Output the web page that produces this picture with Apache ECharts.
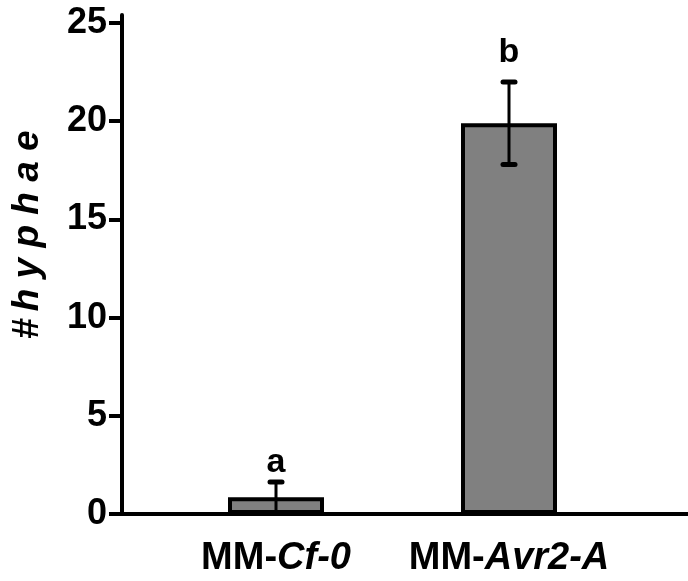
<!DOCTYPE html>
<html>
<head>
<meta charset="utf-8">
<script src="https://cdn.jsdelivr.net/npm/echarts@6/dist/echarts.min.js"></script>
<style>
  html, body { margin: 0; padding: 0; background: #fff; }
  #chart { width: 688px; height: 581px; }
</style>
</head>
<body>
<div id="chart"></div>
<script>
// values
var categories = ['MM-Cf-0', 'MM-Avr2-A'];
var means = [0.85, 19.9];
var errors = [0.78, 2.1];
var letters = ['a', 'b'];
var letterY = [2.6, 23.5];
var yTicks = [0, 5, 10, 15, 20, 25];

var FONT = '"Liberation Sans", Arial, Helvetica, sans-serif';

var errorData = means.map(function (m, i) {
  return [i, m - errors[i], m + errors[i]];
});

var option = {
  animation: false,
  backgroundColor: '#fff',
  grid: [
    // frame: axis lines only
    { left: 122, right: 0, top: 15, bottom: 67 },
    // plotting area for the bars
    { left: 159.5, width: 466, top: 23, bottom: 67 }
  ],
  xAxis: [{
    gridIndex: 0,
    type: 'value',
    min: 0,
    max: 1,
    axisLine: { show: true, lineStyle: { color: '#000', width: 4 } },
    axisTick: { show: false },
    axisLabel: { show: false },
    splitLine: { show: false }
  }, {
    gridIndex: 1,
    type: 'category',
    data: categories,
    axisLine: { show: false },
    axisTick: { show: false },
    axisLabel: {
      margin: 26,
      interval: 0,
      formatter: function (v) {
        var p = v.split('-');
        return '{u|' + p[0] + '-}{i|' + p.slice(1).join('-') + '}';
      },
      rich: {
        u: { fontFamily: FONT, fontWeight: 'bold', fontSize: 38, color: '#000' },
        i: { fontFamily: FONT, fontWeight: 'bold', fontStyle: 'italic', fontSize: 38, color: '#000' }
      }
    }
  }],
  yAxis: [{
    gridIndex: 0,
    type: 'value',
    min: 0,
    max: 1,
    axisLine: { show: true, lineStyle: { color: '#000', width: 4 } },
    axisTick: { show: false },
    axisLabel: { show: false },
    splitLine: { show: false },
    name: '{n|#}  {i|h y p h a e}',
    nameLocation: 'middle',
    nameGap: 76,
    nameRotate: 90,
    nameTextStyle: {
      padding: [0, 0, 0, 60],
      rich: {
        n: { fontFamily: FONT, fontWeight: 'bold', fontSize: 37, color: '#000' },
        i: { fontFamily: FONT, fontWeight: 'bold', fontStyle: 'italic', fontSize: 37, color: '#000' }
      }
    }
  }, {
    gridIndex: 1,
    type: 'value',
    min: yTicks[0],
    max: yTicks[yTicks.length - 1],
    interval: 5,
    offset: 37.5,
    axisLine: { show: false },
    axisTick: { show: true, length: 13, lineStyle: { color: '#000', width: 4 } },
    axisLabel: {
      margin: 15,
      fontFamily: FONT,
      fontWeight: 'bold',
      fontSize: 36,
      color: '#000'
    },
    splitLine: { show: false }
  }],
  series: [{
    type: 'bar',
    xAxisIndex: 1,
    yAxisIndex: 1,
    data: means,
    barWidth: 96,
    itemStyle: { color: '#808080', borderColor: '#000', borderWidth: 4 },
    z: 2
  }, {
    type: 'custom',
    xAxisIndex: 1,
    yAxisIndex: 1,
    data: errorData,
    z: 3,
    renderItem: function (params, api) {
      var x = api.value(0);
      var lo = api.coord([x, api.value(1)]);
      var hi = api.coord([x, api.value(2)]);
      var cap = 6;
      var style = { stroke: '#000', lineWidth: 3, lineCap: 'round' };
      var capStyle = { stroke: '#000', lineWidth: 5, lineCap: 'round' };
      return {
        type: 'group',
        children: [
          { type: 'line', shape: { x1: lo[0], y1: lo[1], x2: hi[0], y2: hi[1] }, style: style },
          { type: 'line', shape: { x1: hi[0] - cap, y1: hi[1], x2: hi[0] + cap, y2: hi[1] }, style: capStyle },
          { type: 'line', shape: { x1: lo[0] - cap, y1: lo[1], x2: lo[0] + cap, y2: lo[1] }, style: capStyle }
        ]
      };
    }
  }, {
    type: 'scatter',
    xAxisIndex: 1,
    yAxisIndex: 1,
    symbolSize: 0,
    itemStyle: { opacity: 1 },
    data: letterY.map(function (v, i) { return [i, v]; }),
    label: {
      show: true,
      position: 'inside',
      formatter: function (p) { return letters[p.dataIndex]; },
      fontFamily: FONT,
      fontWeight: 'bold',
      fontSize: 34,
      color: '#000'
    },
    z: 4
  }]
};

var myChart = echarts.init(document.getElementById('chart'));
myChart.setOption(option);
</script>
</body>
</html>
